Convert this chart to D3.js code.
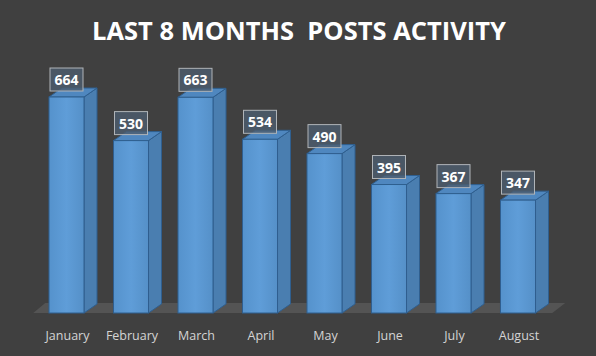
<!DOCTYPE html>
<html><head><meta charset="utf-8">
<script src="https://cdn.jsdelivr.net/npm/d3@7"></script>
<style>html,body{margin:0;padding:0;background:#404040;}svg{display:block;}</style>
</head><body>
<script>
const title = "LAST 8 MONTHS\u00A0\u00A0POSTS ACTIVITY";
const months = ["January","February","March","April","May","June","July","August"];
const posts = [664, 530, 663, 534, 490, 395, 367, 347];

const W = 596, H = 356;
const svg = d3.select("body").append("svg").attr("width", W).attr("height", H);
svg.append("rect").attr("width", W).attr("height", H).attr("fill", "#404040");

const defs = svg.append("defs");
const gFront = defs.append("linearGradient").attr("id","gf").attr("x1",0).attr("x2",1).attr("y1",0).attr("y2",0);
gFront.append("stop").attr("offset","0%").attr("stop-color","#5592cc");
gFront.append("stop").attr("offset","50%").attr("stop-color","#5f9dd8");
gFront.append("stop").attr("offset","100%").attr("stop-color","#5590c8");

const x = d3.scaleBand().domain(months).range([34.25, 550.25]).paddingInner(0.457).paddingOuter(0.2285);
const y = d3.scaleLinear().domain([0, 700]).range([313, 85.3]);
const dx = 13, dy = 9;

// floor
const fl = x.range()[0], fr = x.range()[1];
svg.append("path")
  .attr("d", `M${fl-1},${y(0)} L${fl+11},${y(0)-10} L${fr+15},${y(0)-10} L${fr+2},${y(0)} Z`)
  .attr("fill", "#545454");

// title
svg.append("text").attr("x", 299).attr("y", 40).attr("text-anchor","middle")
  .attr("font-family","'Open Sans', sans-serif").attr("font-weight","bold").attr("font-size",25.5)
  .attr("fill","#ffffff").text(title);

const bars = svg.append("g").selectAll("g").data(posts).join("g");
bars.each(function(v, i){
  const g = d3.select(this);
  const x0 = x(months[i]), x1 = x0 + x.bandwidth();
  const yt = y(v), yb = y(0);
  // side
  g.append("path").attr("d", `M${x1},${yt} L${x1+dx},${yt-dy} L${x1+dx},${yb-dy} L${x1},${yb} Z`)
    .attr("fill","#4a7eb0").attr("stroke","#2f5f8f").attr("stroke-width",1);
  // top
  g.append("path").attr("d", `M${x0},${yt} L${x0+dx},${yt-dy} L${x1+dx},${yt-dy} L${x1},${yt} Z`)
    .attr("fill","#4f87bf").attr("stroke","#2f5f8f").attr("stroke-width",1);
  // front
  g.append("rect").attr("x", x0).attr("y", yt).attr("width", x1-x0).attr("height", yb-yt)
    .attr("fill","url(#gf)").attr("stroke","#2f5f8f").attr("stroke-width",1);
  // label box
  const cx = (x0 + x1) / 2;
  g.append("rect").attr("x", cx-16.5).attr("y", yt-29).attr("width", 33).attr("height", 23)
    .attr("fill","rgba(76,92,110,0.8)").attr("stroke","#b0b4b8").attr("stroke-width",1);
  g.append("text").attr("x", cx).attr("y", yt-12).attr("text-anchor","middle")
    .attr("font-family","'Open Sans', sans-serif").attr("font-weight","bold").attr("font-size",14)
    .attr("fill","#ffffff").text(v);
});

// month axis labels
svg.append("g").selectAll("text").data(months).join("text")
  .attr("x", d => x(d) + x.bandwidth()/2 + 1).attr("y", 340).attr("text-anchor","middle")
  .attr("font-family","'Open Sans', sans-serif").attr("font-size",12.5)
  .attr("fill","#d4d4d4").text(d => d);
</script>
</body></html>
